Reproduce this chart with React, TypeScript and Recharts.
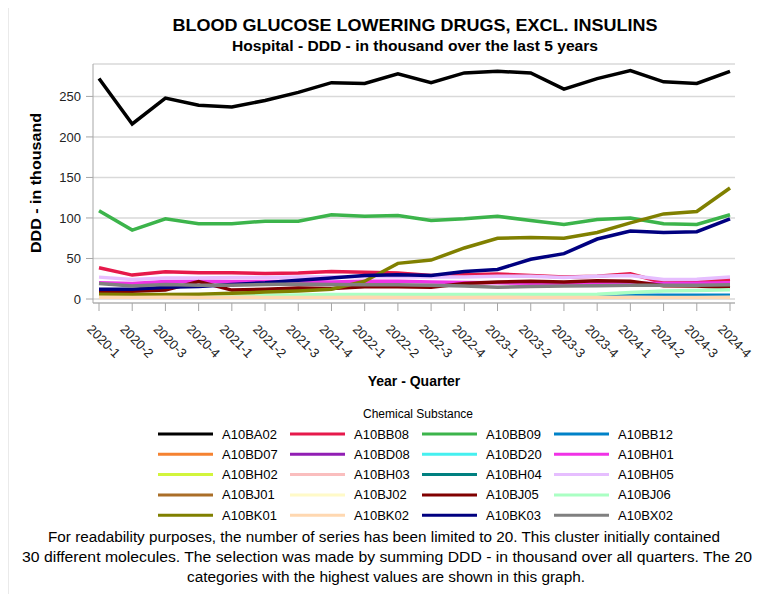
import React from 'react';
import { LineChart, Line, XAxis, YAxis, CartesianGrid } from 'recharts';

const QUARTERS = ['2020-1','2020-2','2020-3','2020-4','2021-1','2021-2','2021-3','2021-4','2022-1','2022-2','2022-3','2022-4','2023-1','2023-2','2023-3','2023-4','2024-1','2024-2','2024-3','2024-4'];

const A10BA02 = [272, 216, 248, 239, 237, 245, 255, 267, 266, 278, 267, 279, 281, 279, 259, 272, 282, 268, 266, 281];
const A10BB08 = [38.5, 29.5, 33.5, 32.5, 32.5, 31.5, 32, 34, 33, 32, 29, 30, 31, 29, 27, 28, 31, 20, 21, 24];
const A10BB09 = [109, 85, 99, 93, 93, 96, 96, 104, 102, 103, 97, 99, 102, 97, 92, 98, 100, 93, 92, 104];
const A10BB12 = [2.5, 2.5, 2.5, 2.5, 2.6, 3, 3, 3, 3, 3.1, 3, 3, 3.5, 3.5, 3.5, 4, 4.5, 4.6, 4.5, 4.6];
const A10BD07 = [0.8, 0.7, 0.8, 0.8, 0.7, 0.8, 0.8, 0.7, 0.8, 0.8, 0.7, 0.8, 0.8, 0.7, 0.8, 0.8, 0.7, 0.8, 0.8, 0.7];
const A10BD08 = [0.5, 0.5, 0.4, 0.5, 0.5, 0.4, 0.5, 0.5, 0.4, 0.5, 0.5, 0.4, 0.5, 0.5, 0.4, 0.5, 0.5, 0.4, 0.5, 0.5];
const A10BD20 = [1, 1, 1.1, 1, 1, 1.1, 1, 1, 1.1, 1, 1, 1.1, 1, 1, 1.1, 1, 1, 1.1, 1, 1];
const A10BH01 = [20, 19, 21.5, 22, 21.5, 21.5, 21.5, 21, 22, 22, 21, 20.5, 20, 19.5, 19.5, 19.5, 19.5, 19, 19.5, 20];
const A10BH02 = [1.1, 1, 1, 1.1, 1, 1, 1.1, 1, 1, 1.1, 1, 1, 1.1, 1, 1, 1.1, 1, 1, 1.1, 1];
const A10BH03 = [1.5, 1.4, 1.5, 1.5, 1.4, 1.5, 1.5, 1.4, 1.5, 1.5, 1.4, 1.5, 1.5, 1.4, 1.5, 1.5, 1.4, 1.5, 1.5, 1.4];
const A10BH04 = [0.5, 0.6, 0.5, 0.5, 0.6, 0.5, 0.5, 0.6, 0.5, 0.5, 0.6, 0.5, 0.5, 0.6, 0.5, 0.5, 0.6, 0.5, 0.5, 0.6];
const A10BH05 = [27, 24, 26, 26, 26.5, 26.5, 27, 27.5, 27.5, 27.5, 27, 27, 28, 28, 26.5, 28, 29, 24, 24.5, 27];
const A10BJ01 = [0.3, 0.3, 0.3, 0.3, 0.3, 0.3, 0.3, 0.3, 0.3, 0.3, 0.3, 0.3, 0.3, 0.3, 0.3, 0.3, 0.3, 0.3, 0.3, 0.3];
const A10BJ02 = [1.6, 1.5, 1.6, 1.6, 1.5, 1.6, 1.6, 1.5, 1.6, 1.6, 1.5, 1.6, 1.6, 1.5, 1.6, 1.6, 1.5, 1.6, 1.6, 1.5];
const A10BJ05 = [9.5, 9.5, 11, 21.5, 11, 12, 13.5, 13, 15, 15, 14.5, 19, 21, 22, 21, 22.5, 22, 16.5, 16, 14];
const A10BJ06 = [3, 3, 3, 3.5, 4, 4.5, 5, 5.5, 5.5, 5.5, 5.5, 5.5, 5.5, 5.5, 5.5, 6, 8, 10, 10.5, 11.5];
const A10BK01 = [6, 5.5, 5.5, 6, 7, 8.5, 10, 12, 22, 44, 48, 63, 75, 76, 75, 82, 94, 105, 108, 137];
const A10BK02 = [2.2, 2, 2.1, 2, 2.1, 2, 1.9, 2, 2.1, 2, 1.9, 2, 2.1, 2, 1.9, 2, 2.1, 2, 2, 2.1];
const A10BK03 = [12, 12, 14.5, 15.5, 18, 20, 23, 26, 29, 30, 29, 34, 36.5, 49, 56, 74, 84, 82, 83, 99];
const A10BX02 = [19, 16, 18, 17, 17, 18, 18.5, 18, 17.5, 17.5, 17, 16, 14.5, 15.5, 16, 16.5, 17, 17, 17, 17.5];

const Y_TICKS = [0, 50, 100, 150, 200, 250];

const SERIES: { name: string; values: number[]; color: string }[] = [
  { name: 'A10BA02', values: A10BA02, color: '#000000' },
  { name: 'A10BB08', values: A10BB08, color: '#e6194b' },
  { name: 'A10BB09', values: A10BB09, color: '#3cb44b' },
  { name: 'A10BB12', values: A10BB12, color: '#0082c8' },
  { name: 'A10BD07', values: A10BD07, color: '#f58231' },
  { name: 'A10BD08', values: A10BD08, color: '#911eb4' },
  { name: 'A10BD20', values: A10BD20, color: '#46f0f0' },
  { name: 'A10BH01', values: A10BH01, color: '#f032e6' },
  { name: 'A10BH02', values: A10BH02, color: '#d2f53c' },
  { name: 'A10BH03', values: A10BH03, color: '#fabebe' },
  { name: 'A10BH04', values: A10BH04, color: '#008080' },
  { name: 'A10BH05', values: A10BH05, color: '#e6beff' },
  { name: 'A10BJ01', values: A10BJ01, color: '#aa6e28' },
  { name: 'A10BJ02', values: A10BJ02, color: '#fffac8' },
  { name: 'A10BJ05', values: A10BJ05, color: '#800000' },
  { name: 'A10BJ06', values: A10BJ06, color: '#aaffc3' },
  { name: 'A10BK01', values: A10BK01, color: '#808000' },
  { name: 'A10BK02', values: A10BK02, color: '#ffd8b1' },
  { name: 'A10BK03', values: A10BK03, color: '#000080' },
  { name: 'A10BX02', values: A10BX02, color: '#808080' },
];

const data = QUARTERS.map((q, i) => {
  const row: Record<string, number | string> = { quarter: q };
  SERIES.forEach((s) => { row[s.name] = s.values[i]; });
  return row;
});

const FONT = '"Liberation Sans", Arial, sans-serif';

const XTick = (props: any) => {
  const { x, y, payload } = props;
  return (
    <g transform={`translate(${x},${y})`}>
      <text transform="rotate(45)" x={3} y={21} textAnchor="start" fontSize={13} fill="#222" fontFamily={FONT}>
        {payload.value}
      </text>
    </g>
  );
};

export default function App() {
  return (
    <div style={{ position: 'relative', width: 760, height: 602, margin: -8, background: '#fff', fontFamily: FONT }}>
      <div style={{ position: 'absolute', left: 0, top: 0 }}>
        <LineChart width={760} height={602} data={data} margin={{ top: 64, right: 25, left: 0, bottom: 269 }}>
          <CartesianGrid vertical={false} stroke="#d9d9d9" strokeWidth={1.5} />
          <XAxis
            dataKey="quarter"
            height={30}
            interval={0}
            padding={{ left: 6, right: 5 }}
            tickSize={8}
            tickMargin={2}
            axisLine={{ stroke: '#a6a6a6' }}
            tickLine={{ stroke: '#a6a6a6' }}
            tick={<XTick />}
          />
          <YAxis
            domain={[0, 290]}
            ticks={Y_TICKS}
            width={93}
            tickSize={7}
            tickMargin={5}
            padding={{ top: 0, bottom: 4 }}
            allowDataOverflow
            axisLine={{ stroke: '#a6a6a6' }}
            tickLine={{ stroke: '#a6a6a6' }}
            tick={{ fontSize: 13, fill: '#222', fontFamily: FONT }}
          />
          {SERIES.map((s) => (
            <Line
              key={s.name}
              type="linear"
              dataKey={s.name}
              stroke={s.color}
              strokeWidth={3.5}
              dot={false}
              activeDot={false}
              isAnimationActive={false}
            />
          ))}
        </LineChart>
      </div>
      <svg width={760} height={602} style={{ position: 'absolute', left: 0, top: 0, pointerEvents: 'none' }} fontFamily={FONT}>
        <line x1={8} y1={1} x2={760} y2={1} stroke="#d6d6d6" />
        <line x1={8} y1={1} x2={8} y2={602} stroke="#d6d6d6" />
        <text x={415} y={31} textAnchor="middle" fontSize={17} fontWeight="bold" fill="#000" textLength={485} lengthAdjust="spacingAndGlyphs">
          BLOOD GLUCOSE LOWERING DRUGS, EXCL. INSULINS
        </text>
        <text x={415} y={51} textAnchor="middle" fontSize={14} fontWeight="bold" fill="#000" textLength={366} lengthAdjust="spacingAndGlyphs">
          Hospital - DDD - in thousand over the last 5 years
        </text>
        <text transform="translate(41,183) rotate(-90)" textAnchor="middle" fontSize={15} fontWeight="bold" fill="#000" textLength={140} lengthAdjust="spacingAndGlyphs">
          DDD - in thousand
        </text>
        <text x={414} y={386} textAnchor="middle" fontSize={14} fontWeight="bold" fill="#000">
          Year - Quarter
        </text>
        <text x={418} y={418} textAnchor="middle" fontSize={12} fill="#000">
          Chemical Substance
        </text>
        {SERIES.map((s, i) => {
          const col = i % 4;
          const row = Math.floor(i / 4);
          const x0 = 158 + col * 132;
          const yc = 434 + row * 20.3;
          return (
            <g key={s.name}>
              <line x1={x0} y1={yc} x2={x0 + 55} y2={yc} stroke={s.color} strokeWidth={3} />
              <text x={x0 + 64} y={yc + 4.5} fontSize={13} fill="#000">{s.name}</text>
            </g>
          );
        })}
        <text x={384} y={542} textAnchor="middle" fontSize={14} fill="#000" textLength={672} lengthAdjust="spacingAndGlyphs">
          For readability purposes, the number of series has been limited to  20. This cluster initially contained
        </text>
        <text x={387} y={562} textAnchor="middle" fontSize={14} fill="#000" textLength={730} lengthAdjust="spacingAndGlyphs">
          30 different molecules. The selection was made by summing DDD - in thousand over all quarters. The 20
        </text>
        <text x={386} y={582} textAnchor="middle" fontSize={14} fill="#000" textLength={398} lengthAdjust="spacingAndGlyphs">
          categories with the highest values are shown in this graph.
        </text>
      </svg>
    </div>
  );
}
